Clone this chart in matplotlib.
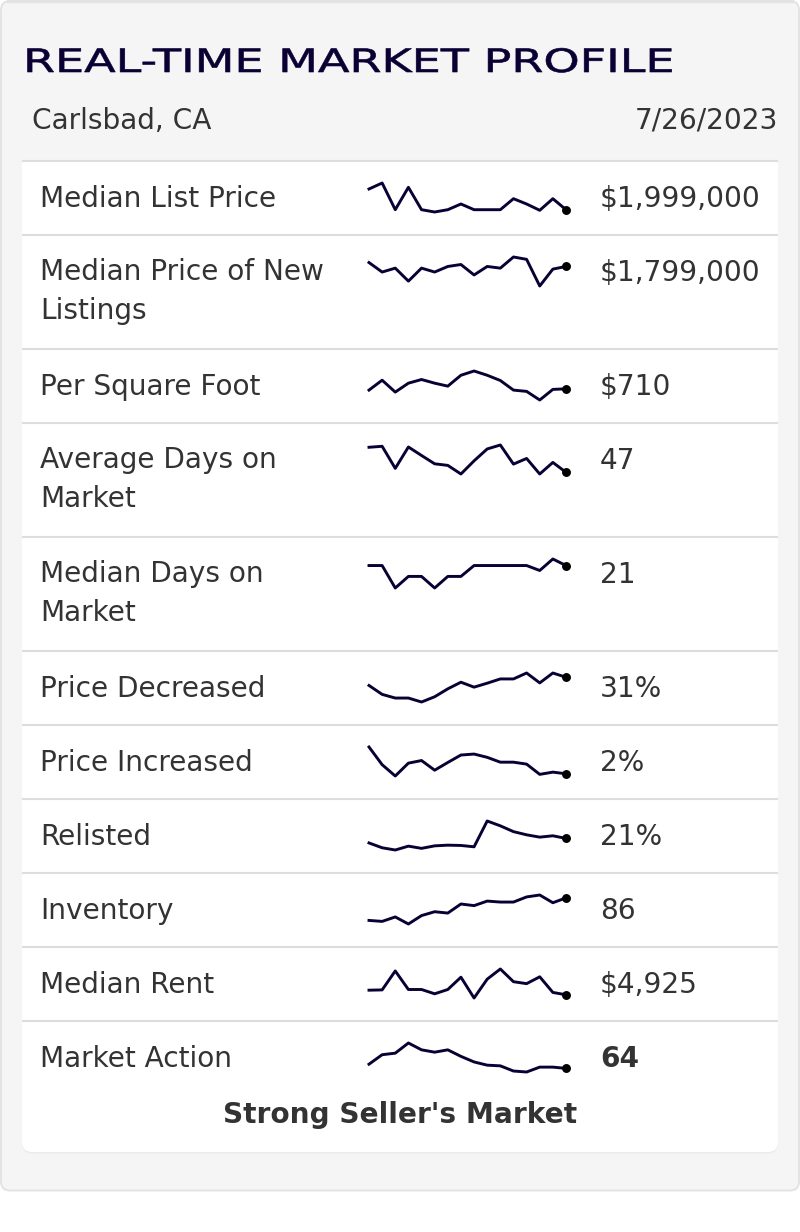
"""Real-Time Market Profile card with one sparkline per row"""

import matplotlib
matplotlib.use('Agg')
import matplotlib.pyplot as plt
from matplotlib.patches import FancyBboxPatch, Rectangle
from matplotlib.patheffects import AbstractPathEffect
from matplotlib.transforms import Affine2D

W, H = 800, 1232

# row labels and values as displayed
labels = ['Median List Price', 'Median Price of New\nListings', 'Per Square Foot',
          'Average Days on\nMarket', 'Median Days on\nMarket', 'Price Decreased',
          'Price Increased', 'Relisted', 'Inventory', 'Median Rent', 'Market Action']
values = ['$1,999,000', '$1,799,000', '$710', '47', '21', '31%', '2%', '21%', '86',
          '$4,925', '64']

# sparklines: relative level of each weekly point, the scale is not shown on the card
list_price = [23, 29, 2.3, 24.7, 2.3, 0, 2.3, 8, 2.3, 2.3, 2.3, 13.3, 8, 1.7, 13.3, 2.3]
new_listings = [24, 14.3, 18.3, 5, 18.3, 14.3, 20, 22, 11.3, 20, 18.3, 29.7, 27.3, 0, 17.3, 20]
per_sqft = [10, 20, 8, 17, 20.7, 17, 14, 25, 29.3, 25, 19.7, 10, 8.7, 0, 10.7, 11.3]
avg_days = [27, 28, 5.7, 27.3, 18.7, 10.3, 8.7, 0, 13.3, 25.3, 29.3, 10, 15.7, 0, 11.7, 1.7]
median_days = [22.7, 22.7, 0, 11.7, 11.7, 0, 11.7, 11.7, 22.7, 22.7, 22.7, 22.7, 22.7, 17.7, 29.3, 22.7]
decreased = [16.7, 7.7, 4, 4, 0, 5.3, 13.3, 20, 15, 19, 23.3, 23.3, 29.3, 19.3, 29.3, 25]
increased = [30, 11.7, 0, 13.3, 16, 6, 14, 21.7, 22.7, 19.3, 14.3, 14.3, 12.3, 1.7, 4, 2.3]
relisted = [7.3, 2.3, 0, 4, 1.7, 4.3, 5, 4.7, 3.3, 30, 25, 19, 15.7, 13.3, 14.7, 12]
inventory = [3.7, 2.7, 7.3, 0, 8.7, 12.7, 11.3, 20.7, 19, 23.7, 22.7, 22.7, 28, 30, 22, 27]
median_rent = [8, 8.3, 27.7, 8.7, 8.7, 4.3, 8.7, 21.3, 0, 19.3, 29.7, 16.7, 14.7, 21.7, 5.7, 3.3]
market_action = [8, 17.7, 19.3, 29.7, 22.7, 20.3, 22.7, 16, 10.3, 7, 6.3, 1, 0, 5, 5, 3.7]

series = [list_price, new_listings, per_sqft, avg_days, median_days, decreased,
          increased, relisted, inventory, median_rent, market_action]

TEXT = '#333333'
NAVY = '#0a0033'
GRID = '#dddddd'
FS = 20.16


class WideText(AbstractPathEffect):
    """Stretch and thicken the glyphs, no wide font is installed here"""

    def __init__(self, stretch, x0, stroke):
        super().__init__()
        self.stretch = stretch
        self.x0 = x0
        self.stroke = stroke

    def draw_path(self, renderer, gc, tpath, affine, rgbFace=None):
        wide = affine + Affine2D().translate(-self.x0, 0).scale(self.stretch, 1).translate(self.x0, 0)
        gc0 = renderer.new_gc()
        gc0.copy_properties(gc)
        gc0.set_linewidth(self.stroke)
        gc0.set_foreground(NAVY)
        renderer.draw_path(gc0, tpath, wide, rgbFace)
        gc0.restore()


fig = plt.figure(figsize=(W / 100, H / 100), dpi=100)
fig.set_facecolor('white')
ax = fig.add_axes([0, 0, 1, 1])
ax.set_xlim(0, W)
ax.set_ylim(H, 0)
ax.axis('off')

"""Fond gris et carte blanche"""
ax.add_patch(FancyBboxPatch((1, 1), 798, 1189.5, boxstyle='round,pad=0,rounding_size=9',
                            facecolor='#f5f5f5', edgecolor='#e3e3e3', linewidth=1.4))
ax.plot([8, 792], [1, 1], color='#e3e3e3', lw=2.4)
# ombre sous la carte, puis la carte, coins du haut carrés
ax.add_patch(FancyBboxPatch((22, 162), 756, 991.5, boxstyle='round,pad=0,rounding_size=10',
                            facecolor='#ebebeb', edgecolor='none'))
ax.add_patch(FancyBboxPatch((22, 161), 756, 991, boxstyle='round,pad=0,rounding_size=10',
                            facecolor='white', edgecolor='none'))
ax.add_patch(Rectangle((22, 161), 756, 30, facecolor='white', edgecolor='none'))

"""En-tête"""
title = ax.text(23, 72, 'REAL-TIME MARKET PROFILE', fontsize=23.2, color=NAVY, va='baseline', ha='left')
title.set_path_effects([WideText(1.43, 23, 0.45)])
ax.text(32, 120.5, 'Carlsbad, CA', fontsize=FS, color=TEXT, va='center', ha='left')
ax.text(778, 120.5, '7/26/2023', fontsize=FS, color=TEXT, va='center', ha='right')

"""Lignes du tableau"""
row_top = 161
for label, value, points in zip(labels, values, series):
    ax.plot([22, 778], [row_top, row_top], color=GRID, lw=1.5, solid_capstyle='butt')
    if '\n' in label:
        ax.text(40, row_top + 23.5, label, fontsize=FS, color=TEXT, va='top', ha='left', linespacing=1.48)
    else:
        ax.text(40, row_top + 35, label, fontsize=FS, color=TEXT, va='center_baseline', ha='left')
    ax.text(600, row_top + 35, value, fontsize=FS, color=TEXT, va='center_baseline', ha='left',
            fontweight='bold' if label == 'Market Action' else 'normal')

    spark = fig.add_axes([369 / W, 1 - (row_top + 22 + 29) / H, 197 / W, 29 / H])
    spark.plot(range(len(points)), points, color=NAVY, lw=2.1, clip_on=False)
    spark.plot(len(points) - 1, points[-1], 'o', color='black', ms=5.4, clip_on=False)
    spark.set_xlim(0, len(points) - 1)
    spark.set_ylim(min(points), max(points))
    spark.axis('off')

    row_top += 114 if '\n' in label else 74

ax.text(400, 1112, "Strong Seller's Market", fontsize=FS, color=TEXT, fontweight='bold',
        va='center_baseline', ha='center')

plt.savefig('out.png', dpi=100, facecolor='white')
